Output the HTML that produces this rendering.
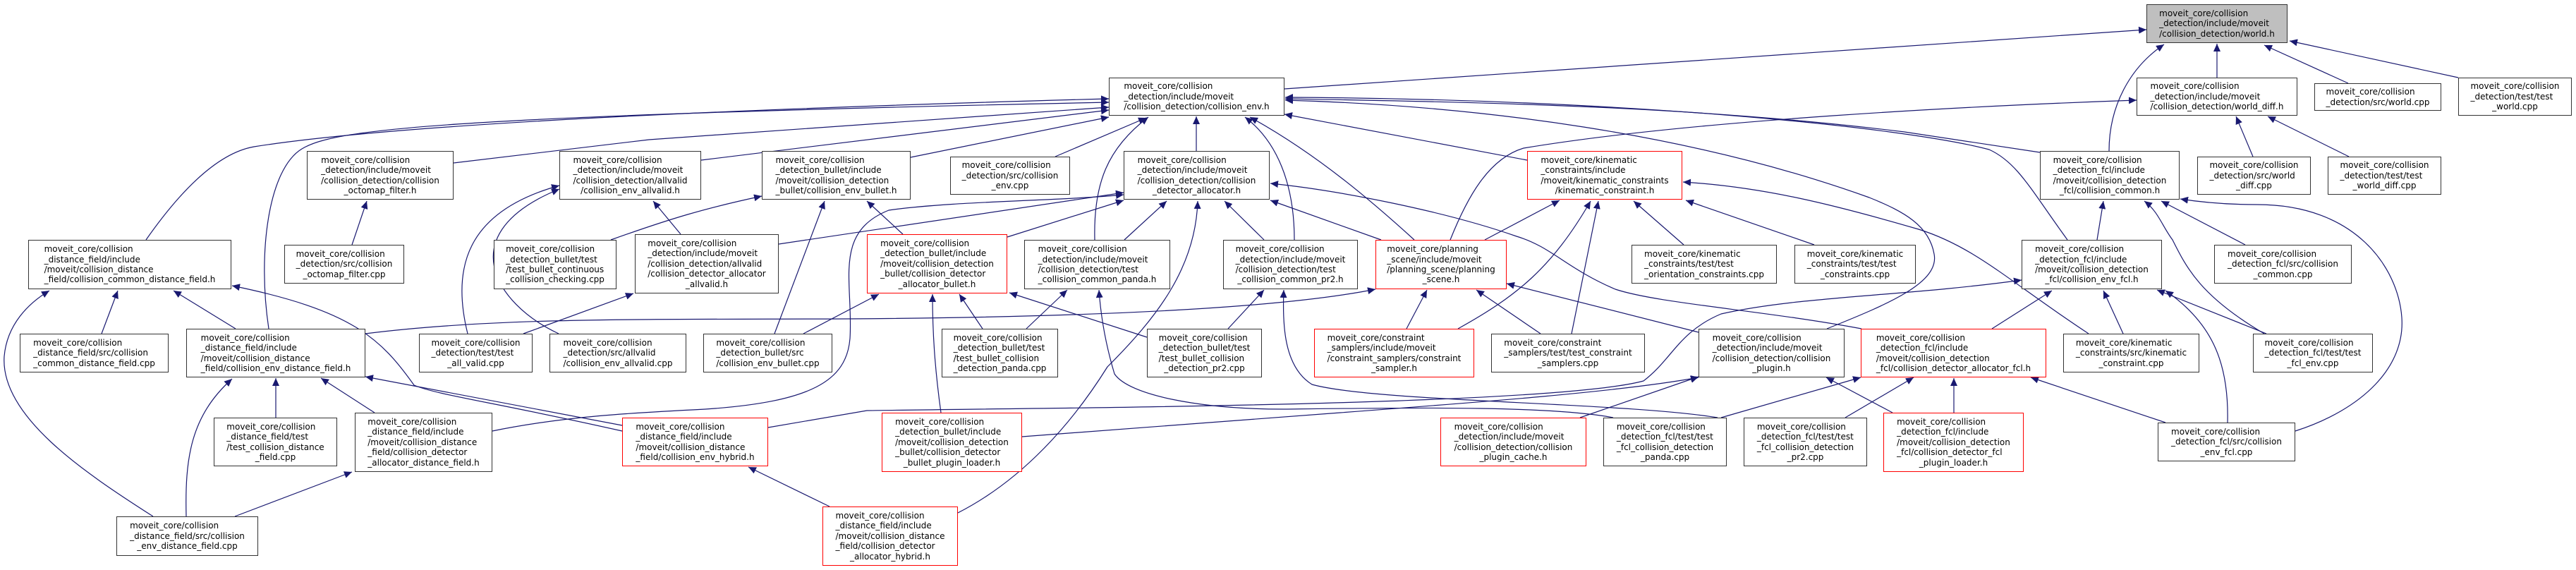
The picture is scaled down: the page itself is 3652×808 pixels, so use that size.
<!DOCTYPE html>
<html><head><meta charset="utf-8">
<style>
html,body{margin:0;padding:0;background:#fff;}
#c{position:relative;width:3652px;height:808px;overflow:hidden;background:#fff;}
svg{position:absolute;left:0;top:0;}
.b{position:absolute;box-sizing:border-box;border:1.3px solid #333;background:#fff;display:flex;align-items:center;justify-content:center;font-family:"DejaVu Sans","Liberation Sans",sans-serif;font-size:12px;line-height:14.4px;color:#000;white-space:nowrap;}
.b>div{display:inline-block;text-align:left;}
.b>div>div:last-child{text-align:center;}
.r{border-color:#f00;}
.g{background:#bfbfbf;}
</style></head><body><div id="c">
<svg width="3652" height="808" viewBox="0 0 3652 808">
<defs><marker id="a" markerUnits="userSpaceOnUse" markerWidth="12" markerHeight="10" refX="11" refY="5" orient="auto"><path d="M0,0 L11,5 L0,10 z" fill="#191970"/></marker></defs>
<g fill="none" stroke="#191970" stroke-width="1.2" marker-end="url(#a)">
<path d="M1821,126 L3043,42"/>
<path d="M3143,110 L3143,62"/>
<path d="M3329,118 L3210,64"/>
<path d="M3485,110 L3246,58"/>
<path d="M2990,214 C2990,150 3020,95 3068,63"/>
<path d="M2056,340 C2080,280 2110,225 2160,210 C2400,170 2800,150 3029,142"/>
<path d="M3194,222 L3170,165"/>
<path d="M3330,222 L3215,165"/>
<path d="M207,340 C270,250 320,215 360,208 C600,170 1200,150 1572,140"/>
<path d="M381,466 C365,360 380,240 428,211 C470,185 600,165 1572,145"/>
<path d="M643,231 L920,198 L1572,152"/>
<path d="M499,347 L520,285"/>
<path d="M663,473 C640,380 660,300 793,263"/>
<path d="M792,473 C700,430 640,330 793,268"/>
<path d="M866,340 C950,310 1000,295 1080,278"/>
<path d="M742,473 L898,416"/>
<path d="M518,473 C700,450 900,453 1200,452 C1500,450 1800,440 1950,410"/>
<path d="M217,732 C120,670 0,590 6,505 C10,460 40,430 70,412"/>
<path d="M144,473 L167,412"/>
<path d="M334,466 L246,412"/>
<path d="M882,611 C700,570 620,560 587,546 C540,480 500,440 329,405"/>
<path d="M882,603 L518,534"/>
<path d="M391,592 L391,536"/>
<path d="M531,585 L455,536"/>
<path d="M264,732 C262,650 270,590 329,537"/>
<path d="M333,732 L499,669"/>
<path d="M698,611 C800,590 900,585 1000,580 C1150,570 1200,540 1205,480 C1210,400 1180,330 1260,298 C1350,285 1500,285 1593,276"/>
<path d="M994,227 L1572,156"/>
<path d="M1291,223 L1572,166"/>
<path d="M1496,222 L1625,167"/>
<path d="M1552,340 C1550,260 1570,210 1628,166"/>
<path d="M1696,214 L1696,165"/>
<path d="M1835,340 C1835,260 1810,200 1765,166"/>
<path d="M2005,340 C1950,290 1870,220 1772,166"/>
<path d="M965,332 L926,285"/>
<path d="M1104,346 L1593,273"/>
<path d="M1098,473 L1169,285"/>
<path d="M1280,332 L1229,285"/>
<path d="M1139,473 L1246,417"/>
<path d="M1428,336 L1593,284"/>
<path d="M1594,340 L1654,285"/>
<path d="M1792,340 L1736,285"/>
<path d="M1393,466 L1360,417"/>
<path d="M1455,466 L1513,411"/>
<path d="M1626,478 L1431,415"/>
<path d="M1741,466 L1792,411"/>
<path d="M1334,585 C1325,520 1322,470 1322,417"/>
<path d="M1449,619 L1900,585 C2100,570 2300,555 2408,535"/>
<path d="M2287,592 C2200,575 2000,578 1820,580 C1700,580 1600,560 1580,530 C1565,480 1560,440 1558,411"/>
<path d="M2435,592 C2300,570 1950,570 1860,545 C1820,520 1818,460 1820,411"/>
<path d="M1089,606 L1229,582 C1500,578 2200,575 2330,540 C2370,510 2380,470 2440,445 C2550,420 2700,420 2866,397"/>
<path d="M1176,718 L1061,662"/>
<path d="M1358,727 C1450,680 1520,600 1570,520 C1640,450 1695,380 1698,285"/>
<path d="M2165,227 L1821,162"/>
<path d="M2931,340 C2880,270 2860,230 2820,212 C2700,180 2300,140 1822,138"/>
<path d="M2590,466 C2680,430 2750,400 2742,360 C2735,320 2700,300 2650,280 C2400,190 2100,150 1822,142"/>
<path d="M2892,216 L2700,187 C2400,150 2100,145 1822,140"/>
<path d="M2105,340 L2211,284"/>
<path d="M2067,466 C2150,420 2200,380 2255,285"/>
<path d="M2228,473 L2266,285"/>
<path d="M2387,347 L2316,285"/>
<path d="M2572,347 L2390,284"/>
<path d="M2961,473 C2850,400 2800,350 2720,325 C2600,290 2500,265 2386,258"/>
<path d="M1994,466 L2023,411"/>
<path d="M2184,473 L2093,411"/>
<path d="M2408,471 L2136,402"/>
<path d="M2240,592 L2408,534"/>
<path d="M2440,592 L2638,535"/>
<path d="M2616,592 L2713,535"/>
<path d="M2683,585 L2589,535"/>
<path d="M2639,466 C2500,440 2350,430 2290,410 C2220,380 2200,350 2150,335 C2050,300 1900,270 1801,260"/>
<path d="M1958,340 L1801,284"/>
<path d="M2973,340 L2982,285"/>
<path d="M3210,473 C3120,420 3100,380 3080,340 C3065,320 3060,300 3040,285"/>
<path d="M3183,347 L3064,285"/>
<path d="M3254,611 C3350,580 3410,520 3405,450 C3400,380 3340,290 3200,290 C3150,290 3110,285 3091,282"/>
<path d="M2824,466 L2909,412"/>
<path d="M3010,473 L2982,412"/>
<path d="M3213,473 L3058,411"/>
<path d="M3158,599 C3160,520 3140,460 3070,412"/>
<path d="M2770,585 L2770,536"/>
<path d="M3070,599 L2879,535"/>
</g></svg>

<div class="b g" style="left:3043px;top:6px;width:200px;height:55px"><div><div>moveit_core/collision</div><div>_detection/include/moveit</div><div>/collision_detection/world.h</div></div></div>
<div class="b" style="left:1572px;top:110px;width:249px;height:54px"><div><div>moveit_core/collision</div><div>_detection/include/moveit</div><div>/collision_detection/collision_env.h</div></div></div>
<div class="b" style="left:3029px;top:110px;width:228px;height:54px"><div><div>moveit_core/collision</div><div>_detection/include/moveit</div><div>/collision_detection/world_diff.h</div></div></div>
<div class="b" style="left:3281px;top:118px;width:180px;height:39px"><div><div>moveit_core/collision</div><div>_detection/src/world.cpp</div></div></div>
<div class="b" style="left:3485px;top:110px;width:161px;height:54px"><div><div>moveit_core/collision</div><div>_detection/test/test</div><div>_world.cpp</div></div></div>
<div class="b" style="left:435px;top:214px;width:208px;height:69px"><div><div>moveit_core/collision</div><div>_detection/include/moveit</div><div>/collision_detection/collision</div><div>_octomap_filter.h</div></div></div>
<div class="b" style="left:793px;top:214px;width:201px;height:69px"><div><div>moveit_core/collision</div><div>_detection/include/moveit</div><div>/collision_detection/allvalid</div><div>/collision_env_allvalid.h</div></div></div>
<div class="b" style="left:1080px;top:214px;width:211px;height:69px"><div><div>moveit_core/collision</div><div>_detection_bullet/include</div><div>/moveit/collision_detection</div><div>_bullet/collision_env_bullet.h</div></div></div>
<div class="b" style="left:1347px;top:222px;width:170px;height:54px"><div><div>moveit_core/collision</div><div>_detection/src/collision</div><div>_env.cpp</div></div></div>
<div class="b" style="left:1593px;top:214px;width:207px;height:69px"><div><div>moveit_core/collision</div><div>_detection/include/moveit</div><div>/collision_detection/collision</div><div>_detector_allocator.h</div></div></div>
<div class="b r" style="left:2165px;top:214px;width:220px;height:69px"><div><div>moveit_core/kinematic</div><div>_constraints/include</div><div>/moveit/kinematic_constraints</div><div>/kinematic_constraint.h</div></div></div>
<div class="b" style="left:2892px;top:214px;width:198px;height:69px"><div><div>moveit_core/collision</div><div>_detection_fcl/include</div><div>/moveit/collision_detection</div><div>_fcl/collision_common.h</div></div></div>
<div class="b" style="left:3115px;top:222px;width:161px;height:54px"><div><div>moveit_core/collision</div><div>_detection/src/world</div><div>_diff.cpp</div></div></div>
<div class="b" style="left:3300px;top:222px;width:161px;height:54px"><div><div>moveit_core/collision</div><div>_detection/test/test</div><div>_world_diff.cpp</div></div></div>
<div class="b" style="left:40px;top:340px;width:288px;height:70px"><div><div>moveit_core/collision</div><div>_distance_field/include</div><div>/moveit/collision_distance</div><div>_field/collision_common_distance_field.h</div></div></div>
<div class="b" style="left:403px;top:347px;width:170px;height:55px"><div><div>moveit_core/collision</div><div>_detection/src/collision</div><div>_octomap_filter.cpp</div></div></div>
<div class="b" style="left:700px;top:340px;width:174px;height:70px"><div><div>moveit_core/collision</div><div>_detection_bullet/test</div><div>/test_bullet_continuous</div><div>_collision_checking.cpp</div></div></div>
<div class="b" style="left:900px;top:332px;width:204px;height:84px"><div><div>moveit_core/collision</div><div>_detection/include/moveit</div><div>/collision_detection/allvalid</div><div>/collision_detector_allocator</div><div>_allvalid.h</div></div></div>
<div class="b r" style="left:1229px;top:332px;width:199px;height:84px"><div><div>moveit_core/collision</div><div>_detection_bullet/include</div><div>/moveit/collision_detection</div><div>_bullet/collision_detector</div><div>_allocator_bullet.h</div></div></div>
<div class="b" style="left:1452px;top:340px;width:207px;height:70px"><div><div>moveit_core/collision</div><div>_detection/include/moveit</div><div>/collision_detection/test</div><div>_collision_common_panda.h</div></div></div>
<div class="b" style="left:1734px;top:340px;width:191px;height:70px"><div><div>moveit_core/collision</div><div>_detection/include/moveit</div><div>/collision_detection/test</div><div>_collision_common_pr2.h</div></div></div>
<div class="b r" style="left:1950px;top:340px;width:186px;height:70px"><div><div>moveit_core/planning</div><div>_scene/include/moveit</div><div>/planning_scene/planning</div><div>_scene.h</div></div></div>
<div class="b" style="left:2313px;top:347px;width:206px;height:55px"><div><div>moveit_core/kinematic</div><div>_constraints/test/test</div><div>_orientation_constraints.cpp</div></div></div>
<div class="b" style="left:2544px;top:347px;width:172px;height:55px"><div><div>moveit_core/kinematic</div><div>_constraints/test/test</div><div>_constraints.cpp</div></div></div>
<div class="b" style="left:2866px;top:340px;width:199px;height:70px"><div><div>moveit_core/collision</div><div>_detection_fcl/include</div><div>/moveit/collision_detection</div><div>_fcl/collision_env_fcl.h</div></div></div>
<div class="b" style="left:3139px;top:347px;width:195px;height:55px"><div><div>moveit_core/collision</div><div>_detection_fcl/src/collision</div><div>_common.cpp</div></div></div>
<div class="b" style="left:28px;top:473px;width:211px;height:55px"><div><div>moveit_core/collision</div><div>_distance_field/src/collision</div><div>_common_distance_field.cpp</div></div></div>
<div class="b" style="left:264px;top:466px;width:254px;height:69px"><div><div>moveit_core/collision</div><div>_distance_field/include</div><div>/moveit/collision_distance</div><div>_field/collision_env_distance_field.h</div></div></div>
<div class="b" style="left:594px;top:473px;width:161px;height:55px"><div><div>moveit_core/collision</div><div>_detection/test/test</div><div>_all_valid.cpp</div></div></div>
<div class="b" style="left:779px;top:473px;width:194px;height:55px"><div><div>moveit_core/collision</div><div>_detection/src/allvalid</div><div>/collision_env_allvalid.cpp</div></div></div>
<div class="b" style="left:997px;top:473px;width:183px;height:55px"><div><div>moveit_core/collision</div><div>_detection_bullet/src</div><div>/collision_env_bullet.cpp</div></div></div>
<div class="b" style="left:1335px;top:466px;width:165px;height:69px"><div><div>moveit_core/collision</div><div>_detection_bullet/test</div><div>/test_bullet_collision</div><div>_detection_panda.cpp</div></div></div>
<div class="b" style="left:1626px;top:466px;width:163px;height:69px"><div><div>moveit_core/collision</div><div>_detection_bullet/test</div><div>/test_bullet_collision</div><div>_detection_pr2.cpp</div></div></div>
<div class="b r" style="left:1863px;top:466px;width:227px;height:69px"><div><div>moveit_core/constraint</div><div>_samplers/include/moveit</div><div>/constraint_samplers/constraint</div><div>_sampler.h</div></div></div>
<div class="b" style="left:2114px;top:473px;width:218px;height:55px"><div><div>moveit_core/constraint</div><div>_samplers/test/test_constraint</div><div>_samplers.cpp</div></div></div>
<div class="b" style="left:2408px;top:466px;width:207px;height:69px"><div><div>moveit_core/collision</div><div>_detection/include/moveit</div><div>/collision_detection/collision</div><div>_plugin.h</div></div></div>
<div class="b r" style="left:2638px;top:466px;width:263px;height:69px"><div><div>moveit_core/collision</div><div>_detection_fcl/include</div><div>/moveit/collision_detection</div><div>_fcl/collision_detector_allocator_fcl.h</div></div></div>
<div class="b" style="left:2925px;top:473px;width:193px;height:55px"><div><div>moveit_core/kinematic</div><div>_constraints/src/kinematic</div><div>_constraint.cpp</div></div></div>
<div class="b" style="left:3194px;top:473px;width:170px;height:55px"><div><div>moveit_core/collision</div><div>_detection_fcl/test/test</div><div>_fcl_env.cpp</div></div></div>
<div class="b" style="left:303px;top:592px;width:175px;height:69px"><div><div>moveit_core/collision</div><div>_distance_field/test</div><div>/test_collision_distance</div><div>_field.cpp</div></div></div>
<div class="b" style="left:503px;top:585px;width:195px;height:84px"><div><div>moveit_core/collision</div><div>_distance_field/include</div><div>/moveit/collision_distance</div><div>_field/collision_detector</div><div>_allocator_distance_field.h</div></div></div>
<div class="b r" style="left:882px;top:592px;width:207px;height:69px"><div><div>moveit_core/collision</div><div>_distance_field/include</div><div>/moveit/collision_distance</div><div>_field/collision_env_hybrid.h</div></div></div>
<div class="b r" style="left:1250px;top:585px;width:199px;height:84px"><div><div>moveit_core/collision</div><div>_detection_bullet/include</div><div>/moveit/collision_detection</div><div>_bullet/collision_detector</div><div>_bullet_plugin_loader.h</div></div></div>
<div class="b r" style="left:2042px;top:592px;width:207px;height:69px"><div><div>moveit_core/collision</div><div>_detection/include/moveit</div><div>/collision_detection/collision</div><div>_plugin_cache.h</div></div></div>
<div class="b" style="left:2273px;top:592px;width:175px;height:69px"><div><div>moveit_core/collision</div><div>_detection_fcl/test/test</div><div>_fcl_collision_detection</div><div>_panda.cpp</div></div></div>
<div class="b" style="left:2472px;top:592px;width:175px;height:69px"><div><div>moveit_core/collision</div><div>_detection_fcl/test/test</div><div>_fcl_collision_detection</div><div>_pr2.cpp</div></div></div>
<div class="b r" style="left:2670px;top:585px;width:199px;height:84px"><div><div>moveit_core/collision</div><div>_detection_fcl/include</div><div>/moveit/collision_detection</div><div>_fcl/collision_detector_fcl</div><div>_plugin_loader.h</div></div></div>
<div class="b" style="left:3059px;top:599px;width:195px;height:55px"><div><div>moveit_core/collision</div><div>_detection_fcl/src/collision</div><div>_env_fcl.cpp</div></div></div>
<div class="b" style="left:165px;top:732px;width:201px;height:56px"><div><div>moveit_core/collision</div><div>_distance_field/src/collision</div><div>_env_distance_field.cpp</div></div></div>
<div class="b r" style="left:1166px;top:718px;width:192px;height:84px"><div><div>moveit_core/collision</div><div>_distance_field/include</div><div>/moveit/collision_distance</div><div>_field/collision_detector</div><div>_allocator_hybrid.h</div></div></div>
</div></body></html>
